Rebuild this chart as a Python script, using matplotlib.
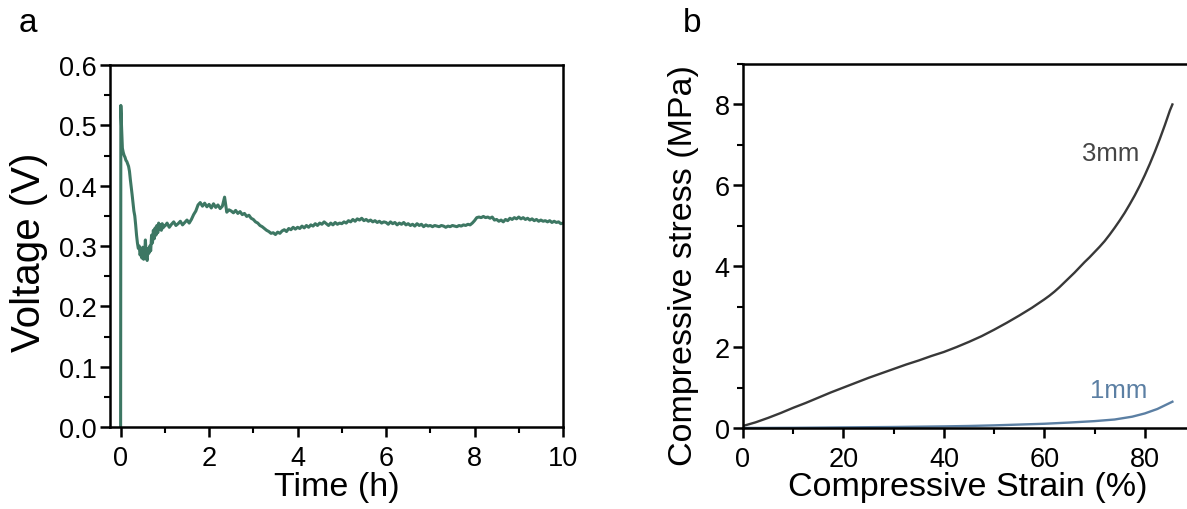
import numpy as np
import matplotlib
matplotlib.use("Agg")
import matplotlib.pyplot as plt
from matplotlib.ticker import MultipleLocator, FormatStrFormatter

plt.rcParams['font.family'] = ['Liberation Sans', 'DejaVu Sans']

# ---- panel a: open-circuit voltage over time ----
time_early = [0.0, 0.005, 0.02, 0.04, 0.06, 0.08, 0.10, 0.12, 0.14, 0.16, 0.18,
              0.20, 0.22, 0.24, 0.26, 0.28, 0.30, 0.32, 0.34, 0.36, 0.38, 0.40,
              0.42, 0.44, 0.46, 0.48, 0.50, 0.52, 0.54, 0.56, 0.58, 0.60, 0.62,
              0.64, 0.66, 0.68, 0.70, 0.72, 0.74, 0.76, 0.78, 0.80, 0.82, 0.84,
              0.86, 0.88, 0.90, 0.92, 0.94, 0.96, 0.98]
volt_early = [0.000, 0.533, 0.500, 0.462, 0.455, 0.450, 0.447, 0.442, 0.440, 0.436,
              0.432, 0.424, 0.410, 0.398, 0.385, 0.372, 0.358, 0.350, 0.335, 0.318,
              0.305, 0.296, 0.300, 0.285, 0.292, 0.280, 0.298, 0.278, 0.286, 0.310,
              0.282, 0.276, 0.296, 0.288, 0.300, 0.292, 0.318, 0.305, 0.326, 0.312,
              0.330, 0.318, 0.334, 0.322, 0.338, 0.328, 0.335, 0.326, 0.337, 0.330,
              0.334]
# logged every 0.05 h from 1 h to 10 h
time_late = np.linspace(1.0, 10.0, 181)
volt_late = [
    0.333, 0.338, 0.331, 0.336, 0.340, 0.334, 0.337, 0.341, 0.335, 0.339, 0.343, 0.338,
    0.344, 0.352, 0.358, 0.368, 0.372, 0.366, 0.371, 0.365,
    0.369, 0.363, 0.370, 0.364, 0.368, 0.362, 0.366, 0.381, 0.356, 0.360,
    0.358, 0.355, 0.359, 0.354, 0.357, 0.352, 0.354, 0.349, 0.351, 0.346,
    0.344, 0.340, 0.338, 0.334, 0.332, 0.329, 0.326, 0.324, 0.321, 0.322,
    0.319, 0.323, 0.321, 0.325, 0.327, 0.324, 0.329, 0.327, 0.331, 0.328,
    0.331, 0.329, 0.333, 0.330, 0.334, 0.331, 0.335, 0.333, 0.337, 0.334,
    0.338, 0.336, 0.340, 0.337, 0.334, 0.338, 0.335, 0.339, 0.336, 0.338,
    0.337, 0.340, 0.338, 0.342, 0.340, 0.344, 0.341, 0.345, 0.343, 0.346,
    0.342, 0.344, 0.341, 0.343, 0.340, 0.342, 0.339, 0.341, 0.338, 0.340,
    0.339, 0.336, 0.340, 0.337, 0.339, 0.335, 0.338, 0.336, 0.339, 0.335,
    0.337, 0.334, 0.336, 0.333, 0.337, 0.334, 0.336, 0.332, 0.335, 0.333,
    0.334, 0.332, 0.334, 0.333, 0.332, 0.334, 0.333, 0.331, 0.333, 0.332,
    0.334, 0.333, 0.332, 0.334, 0.333, 0.335, 0.334, 0.336, 0.335, 0.338,
    0.342, 0.347, 0.348, 0.347, 0.349, 0.347, 0.348, 0.346, 0.348, 0.343,
    0.344, 0.341, 0.343, 0.340, 0.344, 0.342, 0.346, 0.344, 0.347, 0.345,
    0.348, 0.345, 0.347, 0.344, 0.346, 0.343, 0.345, 0.342, 0.344, 0.341,
    0.343, 0.341, 0.342, 0.340, 0.342, 0.339, 0.341, 0.339, 0.340, 0.337,
    0.338]

# ---- panel b: compressive stress-strain ----
strain_3mm = [0, 2.5, 5, 7.5, 10, 12.5, 15, 17.5, 20, 22.5, 25, 27.5, 30, 32.5, 35,
              37.5, 40, 42.5, 45, 47.5, 50, 52.5, 55, 57.5, 60, 61, 62, 63, 64, 65,
              66, 67, 68, 69, 70, 71, 72, 73, 74, 75, 76, 77, 78, 79, 80, 81, 82, 83,
              84, 85, 85.5]
stress_3mm = [0.05, 0.14, 0.25, 0.37, 0.50, 0.62, 0.75, 0.88, 1.00, 1.12, 1.24, 1.35,
              1.46, 1.57, 1.67, 1.78, 1.88, 2.00, 2.13, 2.27, 2.43, 2.60, 2.78, 2.97,
              3.18, 3.27, 3.37, 3.48, 3.60, 3.72, 3.84, 3.97, 4.10, 4.22, 4.35, 4.48,
              4.62, 4.78, 4.95, 5.13, 5.32, 5.53, 5.75, 5.99, 6.25, 6.53, 6.83, 7.15,
              7.49, 7.85, 8.00]
strain_1mm = [0, 10, 20, 30, 40, 45, 50, 55, 60, 65, 70, 74, 77.5, 80, 82.5, 85, 85.5]
stress_1mm = [0.0, 0.005, 0.015, 0.025, 0.04, 0.05, 0.065, 0.085, 0.105, 0.135, 0.17,
              0.21, 0.28, 0.36, 0.47, 0.62, 0.65]

W, H = 1187, 510
fig = plt.figure(figsize=(W / 100, H / 100), dpi=100)

TICK_FS = 19.5
LABEL_FS = 24.5


def style_axes(ax):
    for sp in ax.spines.values():
        sp.set_linewidth(1.8)
    ax.tick_params(which='major', direction='out', length=7, width=1.8,
                   labelsize=TICK_FS)
    ax.tick_params(which='minor', direction='out', length=4, width=1.5)
    ax.tick_params(axis='x', which='major', pad=6)
    ax.tick_params(axis='y', which='major', pad=2.5)


# panel a
ax1 = fig.add_axes([110 / W, (H - 428) / H, (563 - 110) / W, (428 - 66) / H])
ax1.plot(time_early + list(time_late), volt_early + volt_late,
         color='#3d7763', lw=2.2)
ax1.set_xlim(-0.24, 10)
ax1.set_ylim(0, 0.6)
ax1.xaxis.set_major_locator(MultipleLocator(2))
ax1.xaxis.set_minor_locator(MultipleLocator(1))
ax1.yaxis.set_major_locator(MultipleLocator(0.1))
ax1.yaxis.set_minor_locator(MultipleLocator(0.05))
ax1.yaxis.set_major_formatter(FormatStrFormatter('%.1f'))
style_axes(ax1)
ax1.set_xlabel('Time (h)', fontsize=LABEL_FS)
ax1.set_ylabel('Voltage (V)', fontsize=29)
ax1.xaxis.set_label_coords(0.5, -(472 - 428) / 362)
ax1.yaxis.set_label_coords((48 - 110) / 453, (428 - 252) / 362)

# panel b
ax2 = fig.add_axes([743 / W, (H - 429) / H, (1195 - 743) / W, (429 - 65) / H])
ax2.plot(strain_3mm, stress_3mm, color='#383838', lw=1.7)
ax2.plot(strain_1mm, stress_1mm, color='#5b7fa3', lw=1.7)
ax2.set_xlim(0, 90)
ax2.set_ylim(0, 9)
ax2.xaxis.set_major_locator(MultipleLocator(20))
ax2.xaxis.set_minor_locator(MultipleLocator(10))
ax2.yaxis.set_major_locator(MultipleLocator(2))
ax2.yaxis.set_minor_locator(MultipleLocator(1))
style_axes(ax2)
ax2.set_xlabel('Compressive Strain (%)', fontsize=LABEL_FS)
ax2.set_ylabel('Compressive stress (MPa)', fontsize=LABEL_FS)
ax2.xaxis.set_label_coords((968 - 743) / 452, -(472 - 429) / 364)
ax2.yaxis.set_label_coords((699 - 743) / 452, (429 - 266) / 364)
ax2.text(73.3, 6.8, '3mm', color='#454545', fontsize=18.5, ha='center', va='center')
ax2.text(74.9, 0.94, '1mm', color='#5b7fa3', fontsize=18.5, ha='center', va='center')

fig.text(28 / W, 1 - 24 / H, 'a', fontsize=24, ha='center', va='center')
fig.text(692 / W, 1 - 24 / H, 'b', fontsize=24, ha='center', va='center')

fig.savefig('out.png', dpi=100)
